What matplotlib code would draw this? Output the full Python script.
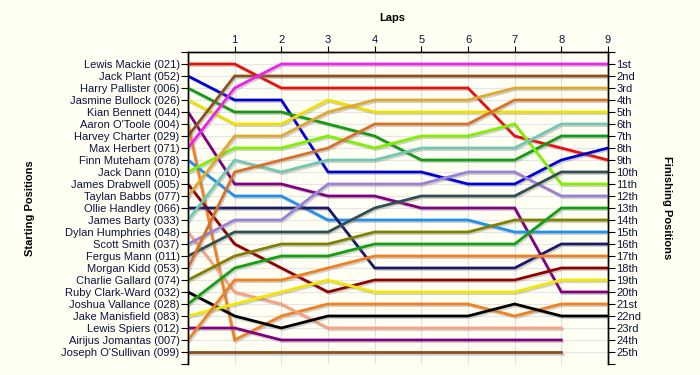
import matplotlib
matplotlib.use('Agg')
import matplotlib.pyplot as plt
import matplotlib.patheffects as pe

plt.rcParams['font.family'] = ['Liberation Sans', 'DejaVu Sans']

laps = [0, 1, 2, 3, 4, 5, 6, 7, 8, 9]

drivers = ["Lewis Mackie (021)", "Jack Plant (052)", "Harry Pallister (006)",
           "Jasmine Bullock (026)", "Kian Bennett (044)", "Aaron O'Toole (004)",
           "Harvey Charter (029)", "Max Herbert (071)", "Finn Muteham (078)",
           "Jack Dann (010)", "James Drabwell (005)", "Taylan Babbs (077)",
           "Ollie Handley (066)", "James Barty (033)", "Dylan Humphries (048)",
           "Scott Smith (037)", "Fergus Mann (011)", "Morgan Kidd (053)",
           "Charlie Gallard (074)", "Ruby Clark-Ward (032)", "Joshua Vallance (028)",
           "Jake Manisfield (083)", "Lewis Spiers (012)", "Airijus Jomantas (007)",
           "Joseph O'Sullivan (099)"]

# position of each driver after each lap (lapped drivers stop at lap 8)
positions = [
    [1, 1, 3, 3, 3, 3, 3, 7, 8, 9],
    [2, 4, 4, 10, 10, 10, 11, 11, 9, 8],
    [3, 5, 5, 6, 7, 9, 9, 9, 7, 7],
    [4, 6, 6, 4, 5, 5, 5, 5, 5, 5],
    [5, 11, 11, 12, 12, 13, 13, 13, 20, 20],
    [6, 24, 22, 21, 21, 21, 21, 22, 21, 21],
    [7, 2, 2, 2, 2, 2, 2, 2, 2, 2],
    [8, 3, 1, 1, 1, 1, 1, 1, 1, 1],
    [9, 12, 12, 14, 14, 14, 14, 15, 15, 15],
    [10, 8, 8, 7, 8, 7, 7, 6, 11, 11],
    [11, 16, 18, 20, 19, 19, 19, 19, 18, 18],
    [12, 7, 7, 5, 4, 4, 4, 3, 3, 3],
    [13, 13, 13, 13, 18, 18, 18, 18, 16, 16],
    [14, 9, 10, 9, 9, 8, 8, 8, 6, 6],
    [15, 20, 21, 23, 23, 23, 23, 23, 23],
    [16, 14, 14, 11, 11, 11, 10, 10, 12, 12],
    [17, 15, 15, 15, 13, 12, 12, 12, 10, 10],
    [18, 10, 9, 8, 6, 6, 6, 4, 4, 4],
    [19, 17, 16, 16, 15, 15, 15, 14, 14, 14],
    [20, 22, 23, 22, 22, 22, 22, 21, 22, 22],
    [21, 18, 17, 17, 16, 16, 16, 16, 13, 13],
    [22, 21, 20, 19, 20, 20, 20, 20, 19, 19],
    [23, 23, 24, 24, 24, 24, 24, 24, 24],
    [24, 19, 19, 18, 17, 17, 17, 17, 17, 17],
    [25, 25, 25, 25, 25, 25, 25, 25, 25],
]

colors = ['#e8100c', '#0000d8', '#129a12', '#f0e000', '#800080', '#f08020',
          '#8b5020', '#f020f0', '#2090f0', '#80f000', '#900000', '#e0a830',
          '#1a1a6a', '#70c8b0', '#f8a080', '#9a80d8', '#2f4f4f', '#d87028',
          '#808000', '#000000', '#10a010', '#f0e800', '#800080', '#f08020',
          '#8b5020']

finish_labels = ['1st', '2nd', '3rd'] + ['%dth' % i for i in range(4, 21)] + \
                ['21st', '22nd', '23rd', '24th', '25th']

bg = '#fffff4'
txt = '#101040'

fig = plt.figure(figsize=(7, 3.75), dpi=100, facecolor=bg)
ax = fig.add_axes([188 / 700, 1 - 364 / 375, 420 / 700, 312 / 375])
ax.set_facecolor(bg)

shadow = [pe.SimpleLineShadow(offset=(1, -1.2), shadow_color='#808080', alpha=0.35),
          pe.Normal()]
for pos, col in zip(positions, colors):
    ax.plot(laps[:len(pos)], pos, color=col, linewidth=2.0,
            solid_joinstyle='miter', path_effects=shadow, zorder=3)

ax.set_xlim(0, 9)
ax.set_ylim(26, 0)

# grid
for x in laps[1:]:
    ax.axvline(x, color='#e0e0e0', linewidth=0.8, zorder=1)
for y in range(1, 26):
    ax.axhline(y, color='#e6e6e6', linewidth=0.8, zorder=1)

ax.xaxis.tick_top()
ax.set_xticks(laps[1:])
ax.set_xticklabels([str(l) for l in laps[1:]])
ax.tick_params(axis='x', direction='out', length=4, color='black',
               labelsize=8, labelcolor=txt, pad=1)

ax.set_yticks([0] + list(range(1, 26)) + [26])
ax.set_yticklabels([''] + drivers + [''])
ax.tick_params(axis='y', direction='out', length=5, color='black',
               labelsize=8, labelcolor=txt, pad=1)

ax2 = ax.twinx()
ax2.set_ylim(26, 0)
ax2.set_yticks([0] + list(range(1, 26)) + [26])
ax2.set_yticklabels([''] + finish_labels + [''])
ax2.tick_params(axis='y', direction='out', length=5, color='black',
                labelsize=8, labelcolor=txt, pad=1)

for a in (ax, ax2):
    a.spines['bottom'].set_visible(False)
    for s in ('top', 'left', 'right'):
        a.spines[s].set_linewidth(1.0)
        a.spines[s].set_color('black')

fig.text(392 / 700, 1 - 18 / 375, 'Laps', ha='center', va='center',
         fontsize=8, fontweight='bold', color='black')
fig.text(30 / 700, 1 - 208 / 375, 'Starting Positions', ha='center', va='center',
         fontsize=8, fontweight='bold', rotation=90, color='black')
fig.text(667 / 700, 1 - 208 / 375, 'Finishing Positions', ha='center', va='center',
         fontsize=8, fontweight='bold', rotation=-90, color='black')

fig.savefig('out.png', dpi=100, facecolor=bg)
